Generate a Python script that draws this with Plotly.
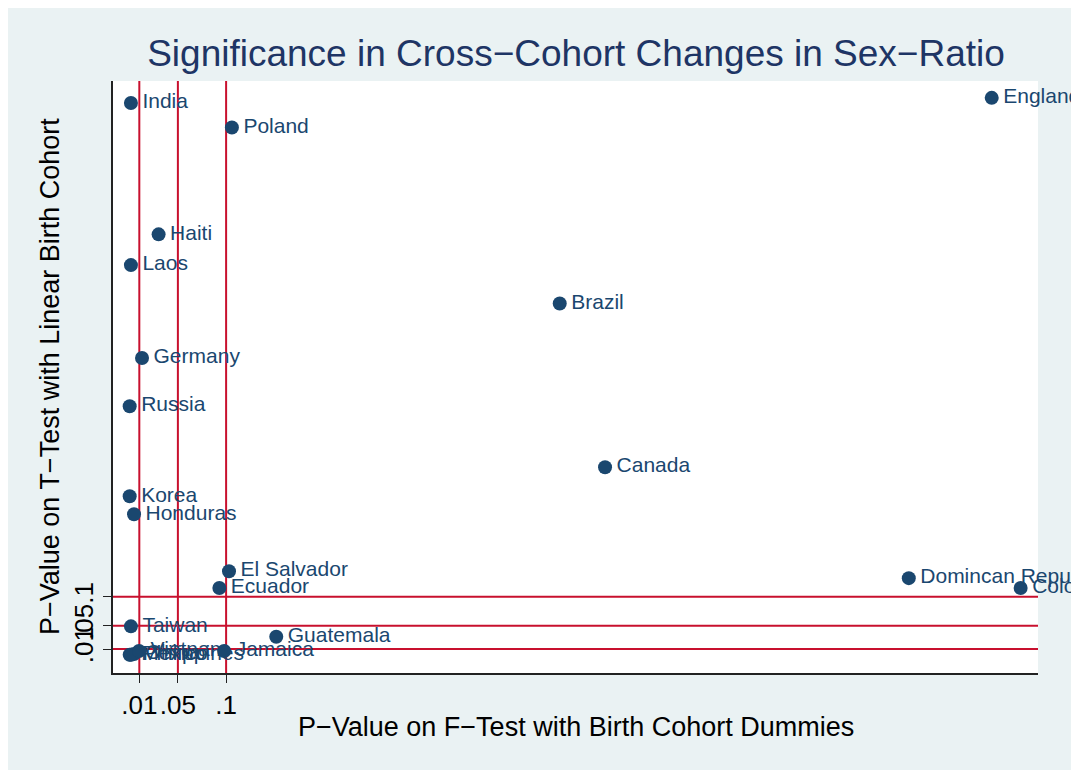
import plotly.graph_objects as go

# P-values per country: F-test on birth-cohort dummies (x) and
# T-test on a linear birth-cohort trend (y)
countries = ["India", "Poland", "Haiti", "Laos", "Brazil", "Germany", "Russia",
             "Canada", "Korea", "Honduras", "El Salvador", "Ecuador",
             "Domincan Republic", "Colombia", "England", "Taiwan", "Guatemala",
             "Jamaica", "Mexico", "China", "Philippines", "Vietnam"]
p_ftest = [0.0013, 0.106, 0.030, 0.0013, 0.446, 0.0128, 0.0, 0.493, 0.0, 0.0045,
           0.103, 0.093, 0.808, 0.924, 0.894, 0.0013, 0.152, 0.098,
           0.0, 0.0045, 0.0013, 0.0097]
p_ttest = [0.950, 0.908, 0.724, 0.671, 0.605, 0.511, 0.428, 0.323, 0.273, 0.242,
           0.144, 0.115, 0.132, 0.115, 0.959, 0.049, 0.031, 0.0065,
           0.0, 0.0014, 0.0, 0.0065]

# Significance thresholds, used for tick marks and reference lines
thresholds = [0.01, 0.05, 0.1]
threshold_labels = [".01", ".05", ".1"]

W, H = 1071, 770
L, R, T, B = 113, 33, 81, 97
PW, PH = W - L - R, H - T - B

navy = "#1A476F"
line_red = "#C8102E"
bg = "#EAF2F3"
font = "Liberation Sans, Arial, Helvetica, sans-serif"


def px_x(p):
    return (p - L) / PW


def px_y(p):
    return (H - B - p) / PH


fig = go.Figure()

fig.add_trace(go.Scatter(
    x=p_ftest, y=p_ttest, text=countries,
    mode="markers+text", textposition="middle right",
    texttemplate="\u200a%{text}",
    marker=dict(color=navy, size=14, line=dict(width=0)),
    textfont=dict(color=navy, size=21, family=font),
    cliponaxis=False, showlegend=False, hoverinfo="text",
))

shapes = []
for t in thresholds:
    shapes.append(dict(type="line", xref="x", yref="paper", x0=t, x1=t, y0=0, y1=1,
                       line=dict(color=line_red, width=2), layer="below"))
    shapes.append(dict(type="line", xref="paper", yref="y", x0=0, x1=1, y0=t, y1=t,
                       line=dict(color=line_red, width=2), layer="below"))

# thin white frame along the top and left edges of the page
shapes.append(dict(type="rect", xref="paper", yref="paper",
                   x0=px_x(0), x1=px_x(W), y0=px_y(0), y1=px_y(8),
                   fillcolor="white", line=dict(width=0), layer="below"))
shapes.append(dict(type="rect", xref="paper", yref="paper",
                   x0=px_x(0), x1=px_x(8), y0=px_y(0), y1=px_y(H),
                   fillcolor="white", line=dict(width=0), layer="below"))

annotations = [
    dict(text="P−Value on F−Test with Birth Cohort Dummies", xref="paper", yref="paper",
         x=px_x(576), y=px_y(727), xanchor="center", yanchor="middle", showarrow=False,
         font=dict(size=27, color="black", family=font)),
    dict(text="P−Value on T−Test with Linear Birth Cohort", xref="paper", yref="paper",
         x=px_x(50), y=px_y(377), xanchor="center", yanchor="middle", showarrow=False,
         textangle=-90, font=dict(size=27, color="black", family=font)),
]

fig.update_layout(
    width=W, height=H,
    margin=dict(l=L, r=R, t=T, b=B, autoexpand=False),
    paper_bgcolor=bg, plot_bgcolor="white",
    title=dict(text="Significance in Cross−Cohort Changes in Sex−Ratio",
               xref="container", yref="container", x=576 / W, y=1 - 53 / H,
               xanchor="center", yanchor="middle",
               font=dict(size=37, color="#1E3565", family=font)),
    shapes=shapes, annotations=annotations,
    font=dict(family=font),
)

fig.update_xaxes(range=[-0.0173, 0.942], tickvals=thresholds, ticktext=threshold_labels,
                 ticks="outside", ticklen=8, tickwidth=1.2, tickcolor="#222",
                 showgrid=False, zeroline=False, showline=True, linecolor="#222",
                 linewidth=1.5, tickfont=dict(size=26, color="black", family=font))
fig.update_yaxes(range=[-0.0313, 0.988], tickvals=thresholds, ticktext=threshold_labels,
                 ticks="outside", ticklen=8, tickwidth=1.2, tickcolor="#222",
                 tickangle=-90,
                 showgrid=False, zeroline=False, showline=True, linecolor="#222",
                 linewidth=1.5, tickfont=dict(size=26, color="black", family=font))

fig.write_html("out.html")
